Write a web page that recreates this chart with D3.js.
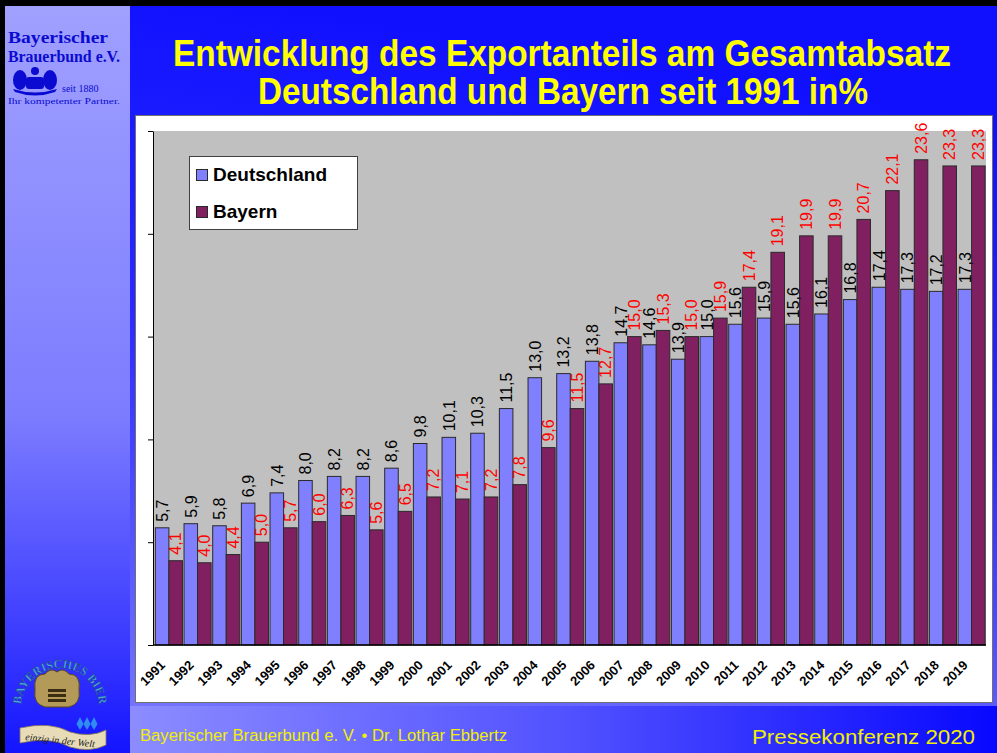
<!DOCTYPE html>
<html>
<head>
<meta charset="utf-8">
<script src="https://cdn.jsdelivr.net/npm/d3@7"></script>
<style>
  body { margin: 0; background: #000; }
  svg { display: block; }
</style>
</head>
<body>
<svg></svg>
<script>
//DATA
var years = ['1991', '1992', '1993', '1994', '1995', '1996', '1997', '1998', '1999', '2000',
    '2001', '2002', '2003', '2004', '2005', '2006', '2007', '2008', '2009', '2010',
    '2011', '2012', '2013', '2014', '2015', '2016', '2017', '2018', '2019'];

var deutschland = [5.7, 5.9, 5.8, 6.9, 7.4, 8.0, 8.2, 8.2, 8.6, 9.8,
    10.1, 10.3, 11.5, 13.0, 13.2, 13.8, 14.7, 14.6, 13.9, 15.0,
    15.6, 15.9, 15.6, 16.1, 16.8, 17.4, 17.3, 17.2, 17.3];

var bayern = [4.1, 4.0, 4.4, 5.0, 5.7, 6.0, 6.3, 5.6, 6.5, 7.2,
    7.1, 7.2, 7.8, 9.6, 11.5, 12.7, 15.0, 15.3, 15.0, 15.9,
    17.4, 19.1, 19.9, 19.9, 20.7, 22.1, 23.6, 23.3, 23.3];

var seriesNames = ['Deutschland', 'Bayern'];
var yTicks = [0, 5, 10, 15, 20, 25];

var titleLines = ['Entwicklung des Exportanteils am Gesamtabsatz',
    'Deutschland und Bayern seit 1991 in%'];

//SVG SETUP
var w = 997,
    h = 753;

var svg = d3.select('svg')
    .attr('width', w)
    .attr('height', h);

var defs = svg.append('defs');

function linGrad(id, x1, y1, x2, y2, stops) {
    var g = defs.append('linearGradient')
        .attr('id', id)
        .attr('x1', x1).attr('y1', y1)
        .attr('x2', x2).attr('y2', y2);
    stops.forEach(function(s) {
        g.append('stop').attr('offset', s[0]).attr('stop-color', s[1]);
    });
}

linGrad('sideGrad', 0, 0, 0, 1, [[0, '#a0a0ff'], [0.55, '#7c7cff'], [0.85, '#3a3aff'], [1, '#1414ff']]);
linGrad('mainGrad', 0.2, 0, 0, 1, [[0, '#1010ff'], [0.45, '#2a2aff'], [1, '#7474ff']]);
linGrad('footGrad', 0, 0, 1, 0, [[0, '#8c8cff'], [0.5, '#5252ff'], [1, '#0808ff']]);

//BACKGROUND
svg.append('rect')
    .attr('width', w).attr('height', h)
    .attr('fill', '#000');

svg.append('rect')
    .attr('x', 5).attr('y', 6)
    .attr('width', 125).attr('height', h - 6)
    .attr('fill', 'url(#sideGrad)');

svg.append('rect')
    .attr('x', 130).attr('y', 6)
    .attr('width', w - 130).attr('height', 702)
    .attr('fill', 'url(#mainGrad)');

svg.append('rect')
    .attr('x', 130).attr('y', 706)
    .attr('width', w - 130).attr('height', h - 706)
    .attr('fill', 'url(#footGrad)');

//TITLE
// condensed bold look: smaller font stretched vertically and squeezed to width
var titleG = svg.append('g')
    .attr('font-family', '"Liberation Sans Narrow", "Arial Narrow", "Liberation Sans", Arial, sans-serif')
    .attr('font-weight', 'bold')
    .attr('font-size', 31)
    .attr('fill', '#ffff00');

titleG.append('text')
    .attr('transform', 'translate(173, 66) scale(1, 1.2)')
    .attr('textLength', 778)
    .attr('lengthAdjust', 'spacingAndGlyphs')
    .text(titleLines[0]);

titleG.append('text')
    .attr('transform', 'translate(258, 104) scale(1, 1.2)')
    .attr('textLength', 610)
    .attr('lengthAdjust', 'spacingAndGlyphs')
    .text(titleLines[1]);

//TOP LEFT LOGO
var logoG = svg.append('g')
    .attr('fill', '#0a0ad0')
    .attr('font-family', '"Liberation Serif", "DejaVu Serif", serif')
    .attr('font-weight', 'bold');

logoG.append('text').attr('x', 8).attr('y', 43).attr('font-size', 17)
    .attr('textLength', 100).attr('lengthAdjust', 'spacingAndGlyphs')
    .text('Bayerischer');
logoG.append('text').attr('x', 8).attr('y', 62).attr('font-size', 17)
    .attr('textLength', 112).attr('lengthAdjust', 'spacingAndGlyphs')
    .text('Brauerbund e.V.');

// small crest: two lions and a barrel
var crest = logoG.append('g').attr('transform', 'translate(35, 80)');
crest.append('ellipse').attr('cx', -15).attr('cy', 0).attr('rx', 7).attr('ry', 10);
crest.append('ellipse').attr('cx', 15).attr('cy', 0).attr('rx', 7).attr('ry', 10);
crest.append('rect').attr('x', -9).attr('y', -3).attr('width', 18).attr('height', 12).attr('rx', 3);
crest.append('path').attr('d', 'M-22,9 Q0,16 22,9 L20,12 Q0,19 -20,12 Z');
crest.append('circle').attr('cx', 0).attr('cy', -9).attr('r', 4);

logoG.append('text').attr('x', 62).attr('y', 92).attr('font-size', 10).attr('font-weight', 'normal')
    .text('seit 1880');
logoG.append('text').attr('x', 8).attr('y', 104).attr('font-size', 8.5).attr('font-weight', 'normal')
    .attr('textLength', 112).attr('lengthAdjust', 'spacingAndGlyphs')
    .text('Ihr kompetenter Partner.');

//BOTTOM LEFT BADGE
var badge = svg.append('g').attr('transform', 'translate(60, 708)');

defs.append('path')
    .attr('id', 'badgeArc')
    .attr('d', 'M-36,14 A39,39 0 1,1 36,14');

badge.append('text')
    .attr('font-family', '"Liberation Serif", serif')
    .attr('font-weight', 'bold')
    .attr('font-size', 12)
    .attr('fill', '#4aa8e0')
    .attr('stroke', '#1a3a80')
    .attr('stroke-width', 0.4)
    .append('textPath')
    .attr('href', '#badgeArc')
    .attr('startOffset', '50%')
    .attr('text-anchor', 'middle')
    .text('BAYERISCHES BIER');

var shield = badge.append('g').attr('transform', 'translate(-3, -14)');
shield.append('path')
    .attr('d', 'M-22,-4 Q-24,-20 -12,-20 Q-6,-27 0,-22 Q6,-27 12,-20 Q24,-20 22,-4 Q24,10 12,13 L-12,13 Q-24,10 -22,-4 Z')
    .attr('fill', '#b49a58')
    .attr('stroke', '#5a4620')
    .attr('stroke-width', 1);
[-5, 0, 5].forEach(function(yy) {
    shield.append('rect')
        .attr('x', -9).attr('y', yy).attr('width', 18).attr('height', 3)
        .attr('fill', '#3c2e14');
});
[20, 27, 34].forEach(function(xx) {
    badge.append('path')
        .attr('d', 'M' + xx + ',9 L' + (xx + 3.5) + ',16 L' + xx + ',22 L' + (xx - 3.5) + ',16 Z')
        .attr('fill', '#2f8cf0');
});
badge.append('path')
    .attr('d', 'M-40,20 Q-10,13 10,24 Q30,30 46,22 L46,37 Q30,45 10,39 Q-10,28 -40,35 Z')
    .attr('fill', '#e8dcb8')
    .attr('stroke', '#8a7a50')
    .attr('stroke-width', 0.8);
badge.append('text')
    .attr('x', -35).attr('y', 32)
    .attr('font-family', '"Liberation Serif", serif')
    .attr('font-style', 'italic')
    .attr('font-size', 10)
    .attr('fill', '#222')
    .attr('transform', 'rotate(6, -35, 32)')
    .text('einzig in der Welt');

//FOOTER
svg.append('text')
    .attr('x', 140).attr('y', 741)
    .attr('font-family', '"Liberation Sans Narrow", "Arial Narrow", "Liberation Sans", sans-serif')
    .attr('font-size', 16)
    .attr('fill', '#f0f000')
    .attr('textLength', 367)
    .attr('lengthAdjust', 'spacingAndGlyphs')
    .text('Bayerischer Brauerbund e. V. \u2022 Dr. Lothar Ebbertz');

svg.append('text')
    .attr('x', 752).attr('y', 744)
    .attr('font-family', '"Liberation Sans", Arial, sans-serif')
    .attr('font-size', 20)
    .attr('fill', '#f0f000')
    .attr('textLength', 223)
    .attr('lengthAdjust', 'spacingAndGlyphs')
    .text('Pressekonferenz 2020');

//CHART BOX
svg.append('rect')
    .attr('x', 135.5).attr('y', 115.5)
    .attr('width', 857).attr('height', 587)
    .attr('fill', '#ffffff')
    .attr('stroke', '#707070')
    .attr('stroke-width', 1);

var plot = {left: 153, right: 986, top: 131, bottom: 645};

svg.append('rect')
    .attr('x', plot.left).attr('y', plot.top)
    .attr('width', plot.right - plot.left).attr('height', plot.bottom - plot.top)
    .attr('fill', '#c0c0c0');

//SCALES
var xScale = d3.scaleBand()
    .domain(years)
    .range([plot.left + 1.5, plot.right])
    .paddingInner(0.055)
    .paddingOuter(0.03);

var xSub = d3.scaleBand()
    .domain(seriesNames)
    .range([0, xScale.bandwidth()]);

var yScale = d3.scaleLinear()
    .domain([0, 25])
    .range([plot.bottom, plot.top]);

var colors = {Deutschland: '#8080ff', Bayern: '#802060'};
var labelColors = {Deutschland: '#000000', Bayern: '#ff0000'};

var locale = d3.formatLocale({decimal: ',', thousands: '.', grouping: [3], currency: ['', '€']});
var fmt = locale.format('.1f');

var rows = years.map(function(yr, i) {
    return {year: yr, values: [
        {name: 'Deutschland', value: deutschland[i]},
        {name: 'Bayern', value: bayern[i]}
    ]};
});

//BARS
var groups = svg.append('g').selectAll('.year')
    .data(rows)
    .enter()
    .append('g')
    .attr('class', 'year')
    .attr('transform', function(d) {
        return 'translate(' + xScale(d.year) + ',0)';
    });

groups.selectAll('rect')
    .data(function(d) { return d.values; })
    .enter()
    .append('rect')
    .attr('x', function(d) { return xSub(d.name); })
    .attr('y', function(d) { return yScale(d.value); })
    .attr('width', xSub.bandwidth())
    .attr('height', function(d) { return plot.bottom - yScale(d.value); })
    .attr('fill', function(d) { return colors[d.name]; })
    .attr('stroke', '#2a2a2a')
    .attr('stroke-width', 1);

groups.selectAll('text')
    .data(function(d) { return d.values; })
    .enter()
    .append('text')
    .attr('transform', function(d) {
        var cx = xSub(d.name) + xSub.bandwidth() / 2;
        return 'translate(' + cx + ',' + (yScale(d.value) - 6) + ') rotate(-90)';
    })
    .attr('dy', '0.36em')
    .attr('font-family', '"Liberation Sans", Arial, sans-serif')
    .attr('font-size', 16)
    .attr('fill', function(d) { return labelColors[d.name]; })
    .text(function(d) { return fmt(d.value); });

//AXES
var yAxis = svg.append('g')
    .attr('transform', 'translate(' + plot.left + ',0)')
    .call(d3.axisLeft(yScale).tickValues(yTicks).tickFormat('').tickSize(5).tickSizeOuter(0));
yAxis.selectAll('path, line').attr('stroke', '#000');

svg.append('line')
    .attr('x1', plot.left).attr('x2', plot.right)
    .attr('y1', plot.bottom).attr('y2', plot.bottom)
    .attr('stroke', '#000')
    .attr('stroke-width', 1.5);

var xAxis = svg.append('g')
    .attr('transform', 'translate(0,' + plot.bottom + ')')
    .call(d3.axisBottom(xScale).tickSize(0).tickSizeOuter(0));
xAxis.select('.domain').remove();
xAxis.selectAll('text')
    .attr('font-family', '"Liberation Sans", Arial, sans-serif')
    .attr('font-weight', 'bold')
    .attr('font-size', 13)
    .attr('fill', '#000')
    .attr('text-anchor', 'end')
    .attr('dy', null)
    .attr('y', 0)
    .attr('transform', 'translate(-3, 21) rotate(-45)');

//LEGEND
var legend = svg.append('g');

legend.append('rect')
    .attr('x', 189.5).attr('y', 156.5)
    .attr('width', 168).attr('height', 73)
    .attr('fill', '#ffffff')
    .attr('stroke', '#404040');

seriesNames.forEach(function(name, i) {
    legend.append('rect')
        .attr('x', 196.5).attr('y', 169.5 + i * 37)
        .attr('width', 11).attr('height', 11)
        .attr('fill', colors[name])
        .attr('stroke', '#2a2a2a');
    legend.append('text')
        .attr('x', 213).attr('y', 181 + i * 37)
        .attr('font-family', '"Liberation Sans", Arial, sans-serif')
        .attr('font-weight', 'bold')
        .attr('font-size', 19)
        .attr('fill', '#000')
        .text(name);
});
</script>
</body>
</html>
